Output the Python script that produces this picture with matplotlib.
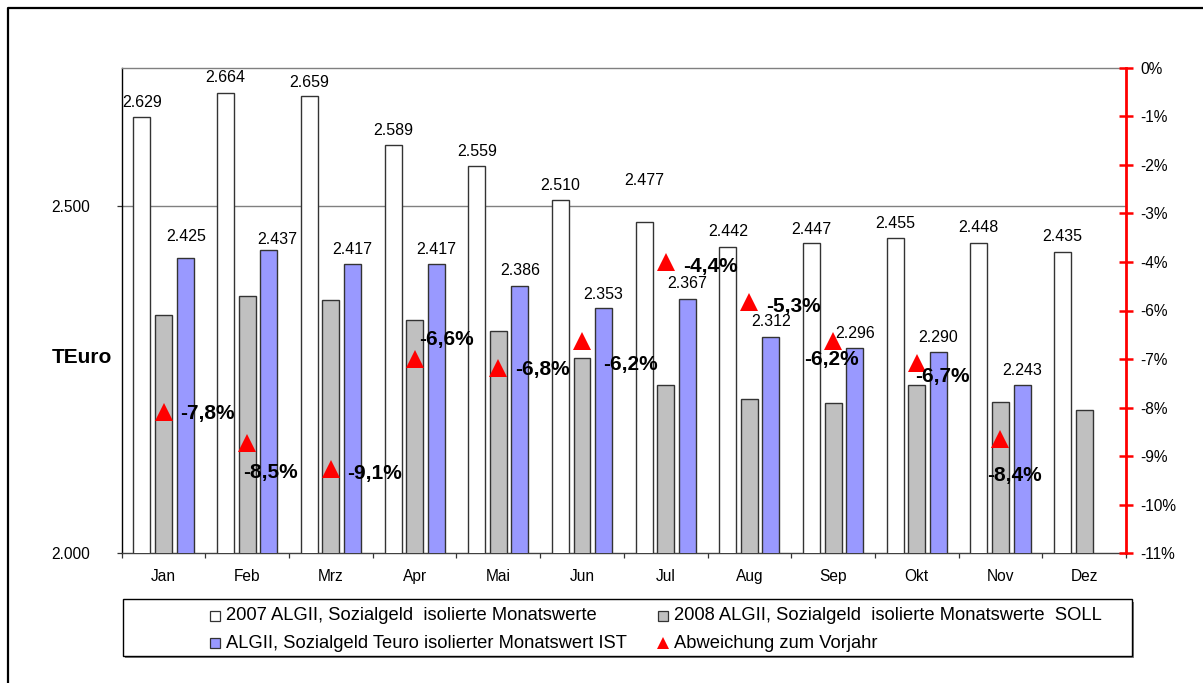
import matplotlib
matplotlib.use("Agg")
import matplotlib.pyplot as plt
import numpy as np
from matplotlib.patches import Rectangle
from matplotlib.ticker import FuncFormatter

plt.rcParams['font.family'] = ['Liberation Sans', 'DejaVu Sans']

# ---- data -------------------------------------------------------------
months = ['Jan', 'Feb', 'Mrz', 'Apr', 'Mai', 'Jun', 'Jul', 'Aug', 'Sep', 'Okt', 'Nov', 'Dez']
werte_2007 = [2629, 2664, 2659, 2589, 2559, 2510, 2477, 2442, 2447, 2455, 2448, 2435]
soll_2008 = [2343, 2371, 2365, 2337, 2320, 2281, 2243, 2223, 2216, 2243, 2218, 2206]
ist_2008 = [2425, 2437, 2417, 2417, 2386, 2353, 2367, 2312, 2296, 2290, 2243]
abweichung = [-7.8, -8.5, -9.1, -6.6, -6.8, -6.2, -4.4, -5.3, -6.2, -6.7, -8.4]

legend_labels = [
    '2007 ALGII, Sozialgeld  isolierte Monatswerte',
    '2008 ALGII, Sozialgeld  isolierte Monatswerte  SOLL',
    'ALGII, Sozialgeld Teuro isolierter Monatswert IST',
    'Abweichung zum Vorjahr',
]

# ---- styling ------------------------------------------------------------
W, H = 1203, 683
C_WHITE, C_GRAY, C_BLUE = '#FFFFFF', '#C0C0C0', '#9999FF'
EDGE = '#333333'
PX2PT = 0.72  # 100 dpi

# label placement for the percentage labels: (ha, dx px, dy px down)
pct_place = [('left', 17, 1), ('left', -4.5, 30), ('left', 16, 4), ('left', 5, -20),
             ('left', 16.5, 2), ('left', 21.5, 23), ('left', 17, 5), ('left', 17, 5),
             ('center', -2, 18), ('left', -1.5, 13), ('center', 14, 37)]
# vertical gap (px) of the value labels above the bars
lbl_2007_dy = [14, 15, 14, 14, 14, 14, 42, 15, 14, 14, 15, 15]
lbl_ist_off = [(1.5, 22), (8.5, 11), (0, 15), (0, 15), (0, 15), (0, 14), (0, 15),
               (0, 15), (0, 14), (0, 15), (0, 14.5)]


def de_int(v):
    return f"{v:,}".replace(',', '.')


def de_pct(v):
    return f"{v:.1f}%".replace('.', ',')


fig = plt.figure(figsize=(W / 100, H / 100), dpi=100)


def fx(px):
    return px / W


def fy(py):
    return 1 - py / H


# background layer: outer frame and legend box
lax = fig.add_axes([0, 0, 1, 1], zorder=-1)
lax.set_xlim(0, W)
lax.set_ylim(H, 0)
lax.axis('off')
lax.plot([8, 8, W + 5], [H + 5, 8, 8], color='black', lw=1.6, solid_capstyle='butt')

# main axes
ax = fig.add_axes([fx(121.7), fy(553.3), fx(1126) - fx(121.7), fy(67.7) - fy(553.3)])
ax.patch.set_alpha(0)
x = np.arange(len(months))
off, bw = 0.258, 0.203

ax.bar(x - off, werte_2007, bw, color=C_WHITE, edgecolor=EDGE, linewidth=1.0, zorder=3)
ax.bar(x, soll_2008, bw, color=C_GRAY, edgecolor=EDGE, linewidth=1.0, zorder=3)
xi = x[:len(ist_2008)]
ax.bar(xi + off, ist_2008, bw, color=C_BLUE, edgecolor=EDGE, linewidth=1.0, zorder=3)

ax.set_xlim(-0.5, 11.5)
ax.set_ylim(2000, 2700)
ax.set_yticks([2000, 2500])
ax.yaxis.set_major_formatter(FuncFormatter(lambda v, p: de_int(int(round(v)))))
ax.axhline(2500, color='#808080', lw=1.0, zorder=1)
ax.tick_params(axis='y', direction='out', length=3.6, width=0.9, pad=19.2,
               labelsize=11.2, color='#333333')
ax.set_xticks(x)
ax.set_xticklabels(months)
ax.set_xticks(np.arange(-0.5, 12, 1), minor=True)
ax.tick_params(axis='x', which='major', length=0, pad=11, labelsize=11.2)
ax.tick_params(axis='x', which='minor', direction='out', length=3.6, width=0.9, color='#333333')

ax.spines['left'].set_color('black')
ax.spines['left'].set_linewidth(1.0)
ax.spines['bottom'].set_color('#404040')
ax.spines['bottom'].set_linewidth(1.0)
ax.spines['top'].set_color('#808080')
ax.spines['top'].set_linewidth(1.0)
ax.spines['right'].set_visible(False)

for i, v in enumerate(werte_2007):
    ax.annotate(de_int(v), (x[i] - off, v), xytext=(0, lbl_2007_dy[i] * PX2PT),
                textcoords='offset points', ha='center', va='center', fontsize=11.5, zorder=6)
for i, v in enumerate(ist_2008):
    dx, dy = lbl_ist_off[i]
    ax.annotate(de_int(v), (xi[i] + off, v), xytext=(dx * PX2PT, dy * PX2PT),
                textcoords='offset points', ha='center', va='center', fontsize=11.5, zorder=6)

# secondary axis for the year-on-year deviation
ax2 = ax.twinx()
ax2.set_ylim(-11, 0)
ax2.set_yticks([-1.1 * i for i in range(11)])
ax2.yaxis.set_major_formatter(
    FuncFormatter(lambda v, p: '0%' if abs(v) < 1e-9 else f"-{int(abs(v) + 0.5 + 1e-9)}%"))
for s in ['left', 'top', 'bottom']:
    ax2.spines[s].set_visible(False)
ax2.spines['right'].set_color('red')
ax2.spines['right'].set_linewidth(2.0)
ax2.tick_params(axis='y', direction='inout', length=9.4, width=1.8, color='red',
                labelcolor='black', pad=5.3, labelsize=11.2)

ax2.plot(xi, abweichung, linestyle='none', marker='^', color='red', markersize=13,
         markeredgewidth=0, zorder=5)
for i, v in enumerate(abweichung):
    ha, dx, dy = pct_place[i]
    ax2.annotate(de_pct(v), (xi[i], v), xytext=(dx * PX2PT, -dy * PX2PT),
                 textcoords='offset points', ha=ha, va='center', fontsize=15,
                 fontweight='bold', zorder=6)

fig.text(fx(82), fy(357), 'TEuro', ha='center', va='center', fontsize=15, fontweight='bold')

# legend
lax.add_patch(Rectangle((125.2, 601.8), 1009, 56.4, facecolor='#808080', edgecolor='none'))
lax.add_patch(Rectangle((122.7, 599.3), 1009, 56.4, facecolor='white', edgecolor='black', lw=1.0))
rows = [615.7, 643.3]
cols = [(210, 226), (658, 674)]
items = [(0, 0, C_WHITE), (0, 1, C_GRAY), (1, 0, C_BLUE)]
for r, c, col in items:
    sx, tx = cols[c]
    lax.add_patch(Rectangle((sx, rows[r] - 5), 10, 10, facecolor=col, edgecolor=EDGE, lw=0.9))
lax.plot(cols[1][0] + 5, rows[1] - 0.5, marker='^', color='red', markersize=8, markeredgewidth=0)
for idx, (r, c) in enumerate([(0, 0), (0, 1), (1, 0), (1, 1)]):
    lax.text(cols[c][1], rows[r], legend_labels[idx], ha='left', va='center', fontsize=13.2)

fig.savefig('out.png', dpi=100)
